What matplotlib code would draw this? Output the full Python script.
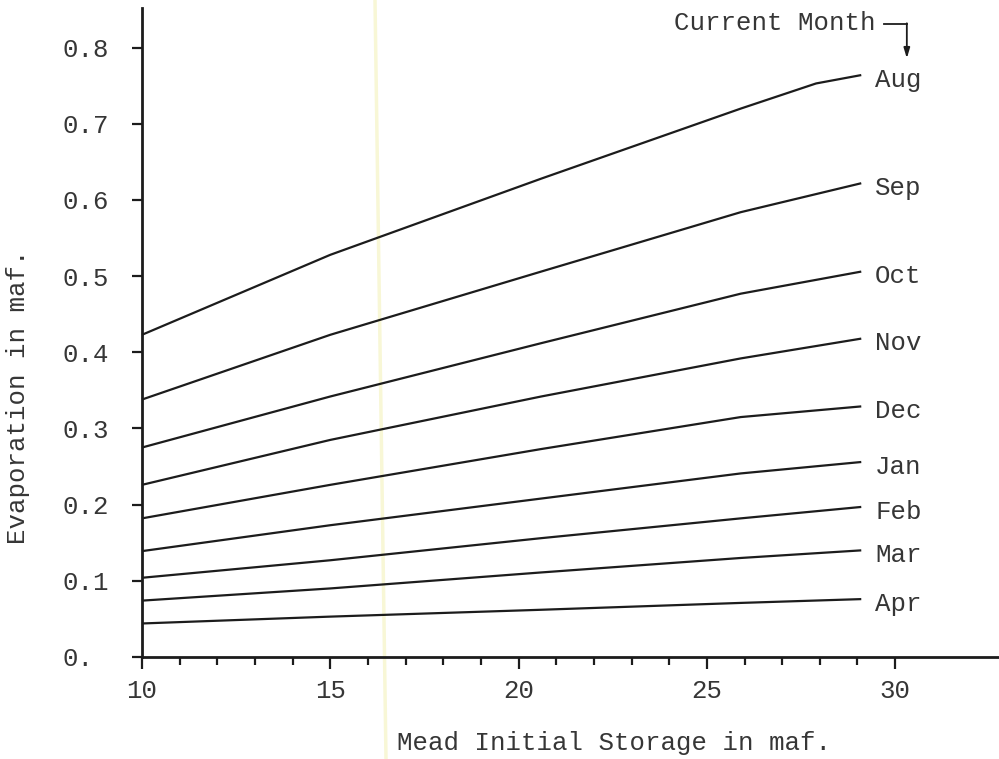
import matplotlib
matplotlib.use("Agg")
import matplotlib.pyplot as plt
from matplotlib.ticker import FixedLocator
from matplotlib.lines import Line2D

# ---- data ----
storage = [10, 15, 20.6, 25.9, 29.1]          # Mead initial storage (maf)
aug_storage = [10, 15, 20.6, 25.9, 27.9, 29.1]
aug = [0.423, 0.528, 0.628, 0.720, 0.753, 0.764]
sep = [0.338, 0.423, 0.506, 0.584, 0.622]
oct_ = [0.275, 0.342, 0.412, 0.477, 0.506]
nov = [0.226, 0.285, 0.342, 0.392, 0.418]
dec = [0.182, 0.226, 0.273, 0.315, 0.329]
jan = [0.139, 0.173, 0.208, 0.241, 0.256]
feb = [0.104, 0.127, 0.156, 0.182, 0.197]
mar = [0.074, 0.090, 0.111, 0.130, 0.140]
apr = [0.044, 0.053, 0.062, 0.071, 0.076]
months = ["Aug", "Sep", "Oct", "Nov", "Dec", "Jan", "Feb", "Mar", "Apr"]

x_major = [10, 15, 20, 25, 30]
x_major_labels = ["10", "15", "20", "25", "30"]
x_minor = list(range(10, 31))
y_ticks = [0.0, 0.1, 0.2, 0.3, 0.4, 0.5, 0.6, 0.7, 0.8]
y_tick_labels = ["0.", "0.1", "0.2", "0.3", "0.4", "0.5", "0.6", "0.7", "0.8"]

series = [(aug_storage, aug)] + [(storage, s) for s in
                                 [sep, oct_, nov, dec, jan, feb, mar, apr]]

# ---- style ----
FONT = ["Liberation Mono", "DejaVu Sans Mono"]
FS = 18.5
LINE_C = "#1c1c1c"
TEXT_C = "#363636"

fig = plt.figure(figsize=(9.99, 7.59), dpi=100)
fig.patch.set_facecolor("white")
ax = fig.add_axes([0.1421, 0.1344, 0.858, 0.855])
ax.patch.set_alpha(0)

# faint scan artefact (pale yellow vertical streak)
fig.add_artist(Line2D([375 / 999, 386 / 999], [1, 0], color="#f8f7d6",
                      lw=2.5, zorder=0, transform=fig.transFigure))

for (xs, ys), name in zip(series, months):
    ax.plot(xs, ys, color=LINE_C, lw=1.6, solid_capstyle="butt", clip_on=False)
    ax.annotate(name, xy=(xs[-1], ys[-1]), xytext=(10, -3.5),
                textcoords="offset points", ha="left", va="center",
                fontsize=FS, family=FONT, color=TEXT_C)

ax.set_xlim(10, 32.76)
ax.set_ylim(0, 0.852)

for side in ["top", "right"]:
    ax.spines[side].set_visible(False)
for side in ["left", "bottom"]:
    ax.spines[side].set_linewidth(2.0)
    ax.spines[side].set_color(LINE_C)

ax.xaxis.set_major_locator(FixedLocator(x_major))
ax.set_xticklabels(x_major_labels)
ax.xaxis.set_minor_locator(FixedLocator(x_minor))
ax.set_yticks(y_ticks)
ax.set_yticklabels(y_tick_labels)

ax.tick_params(axis="x", which="major", direction="out", length=8.6, width=1.6,
               color=LINE_C, pad=7.5, labelsize=FS, labelcolor=TEXT_C)
ax.tick_params(axis="x", which="minor", direction="out", length=5.8, width=1.6,
               color=LINE_C)
ax.tick_params(axis="y", which="major", direction="out", length=7.2, width=1.6,
               color=LINE_C, pad=49.7, labelsize=FS, labelcolor=TEXT_C)
for lab in ax.get_xticklabels() + ax.get_yticklabels():
    lab.set_family(FONT)
for lab in ax.get_yticklabels():
    lab.set_horizontalalignment("left")

ax.set_xlabel("Mead Initial Storage in maf.", fontsize=FS, family=FONT,
              color=TEXT_C)
ax.xaxis.set_label_coords(0.551, -0.1325)
ax.xaxis.label.set_va("center")
ax.set_ylabel("Evaporation in maf.", fontsize=FS, family=FONT, color=TEXT_C)
ax.yaxis.set_label_coords(-0.1447, 0.4006)
ax.yaxis.label.set_va("center")

# "Current Month" pointer
ax.text(29.47, 0.832, "Current Month", ha="right", va="center",
        fontsize=FS, family=FONT, color=TEXT_C)
ax.plot([29.71, 30.31], [0.831, 0.831], color=LINE_C, lw=1.3, clip_on=False)
ax.annotate("", xy=(30.31, 0.786), xytext=(30.31, 0.832),
            arrowprops=dict(arrowstyle="-|>,head_length=0.6,head_width=0.18",
                            color=LINE_C, lw=1.3, shrinkA=0, shrinkB=0),
            annotation_clip=False)

fig.savefig("out.png", dpi=100, facecolor="white")
